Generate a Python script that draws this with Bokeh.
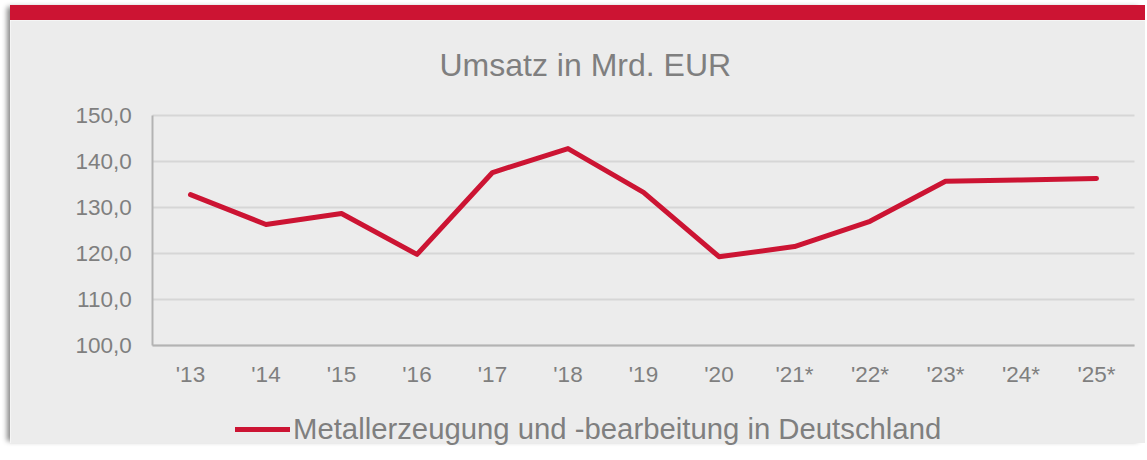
from bokeh.plotting import figure
from bokeh.models import Range1d, Legend, Label, FixedTicker
from bokeh.embed import file_html
from bokeh.resources import INLINE

years = ["'13", "'14", "'15", "'16", "'17", "'18", "'19", "'20",
         "'21*", "'22*", "'23*", "'24*", "'25*"]
umsatz = [132.8, 126.3, 128.7, 119.8, 137.6, 142.8, 133.3, 119.3,
          121.5, 127.0, 135.7, 136.0, 136.3]
series_name = "Metallerzeugung und -bearbeitung in Deutschland"
chart_title = "Umsatz in Mrd. EUR"
y_ticks = [100, 110, 120, 130, 140, 150]

RED = "#cc1433"
BG = "#ececec"
TXT = "#7f7f7f"
FONT = "Liberation Sans"

# layout geometry (pixels)
W, H = 1135, 438          # figure content size
PX_X = 75.5               # pixels per category
PX_Y = 4.6                # pixels per unit
X0 = 180                  # first category centre from figure left
Y150 = 95                 # y=150 from figure top
idx = list(range(len(years)))
x_lo = -X0 / PX_X
x_hi = x_lo + W / PX_X
y_hi = y_ticks[-1] + Y150 / PX_Y
y_lo = y_hi - H / PX_Y

p = figure(width=W, height=H, x_range=Range1d(x_lo, x_hi),
           y_range=Range1d(y_lo, y_hi), output_backend="svg",
           toolbar_location=None, min_border=0)
p.background_fill_color = BG
p.border_fill_color = BG
p.outline_line_color = None

r = p.line(idx, umsatz, line_color=RED, line_width=5, line_join="round",
           line_cap="round")

left_edge, right_edge = -0.5, len(years) - 0.5
p.xgrid.grid_line_color = None
p.ygrid.grid_line_color = "#d6d6d6"
p.ygrid.grid_line_width = 2
p.ygrid.cross_bounds = (left_edge, right_edge)

p.yaxis.ticker = FixedTicker(ticks=y_ticks)
p.yaxis.major_label_overrides = {v: f"{v:.1f}".replace(".", ",") for v in y_ticks}
p.yaxis.fixed_location = left_edge
p.yaxis.bounds = (y_ticks[0], y_ticks[-1])
p.xaxis.ticker = FixedTicker(ticks=idx)
p.xaxis.major_label_overrides = {i: y for i, y in zip(idx, years)}
p.xaxis.fixed_location = y_ticks[0]
p.xaxis.bounds = (left_edge, right_edge)

for ax in (p.xaxis, p.yaxis):
    ax.axis_line_color = "#b3b3b3"
    ax.axis_line_width = 2
    ax.major_tick_line_color = None
    ax.minor_tick_line_color = None
    ax.major_tick_out = 0
    ax.major_tick_in = 0
    ax.major_label_text_font = FONT
    ax.major_label_text_font_size = "22.5px"
    ax.major_label_text_color = TXT
p.yaxis.major_label_standoff = 21
p.xaxis.major_label_standoff = 16

title = Label(x=(439 - 10 - X0) / PX_X, y=y_ticks[-1] + (115 - 64) / PX_Y,
              text=chart_title, text_font=FONT, text_font_size="32px",
              text_color=TXT, text_align="left", text_baseline="alphabetic")
p.add_layout(title)

legend = Legend(items=[(series_name, [r])], location=(225, 12),
                label_text_font=FONT, label_text_font_size="29.3px",
                label_text_color=TXT, glyph_width=55, glyph_height=30,
                label_height=30, label_standoff=3, padding=0, margin=0,
                border_line_alpha=0, background_fill_alpha=0)
p.add_layout(legend, "center")

p.styles = {"margin-left": "10px", "margin-top": "5px",
            "border-top": f"15px solid {RED}",
            "box-shadow": "-5px 0 5px -2px #8a8a8a"}

open("out.html", "w").write(file_html(p, INLINE))
